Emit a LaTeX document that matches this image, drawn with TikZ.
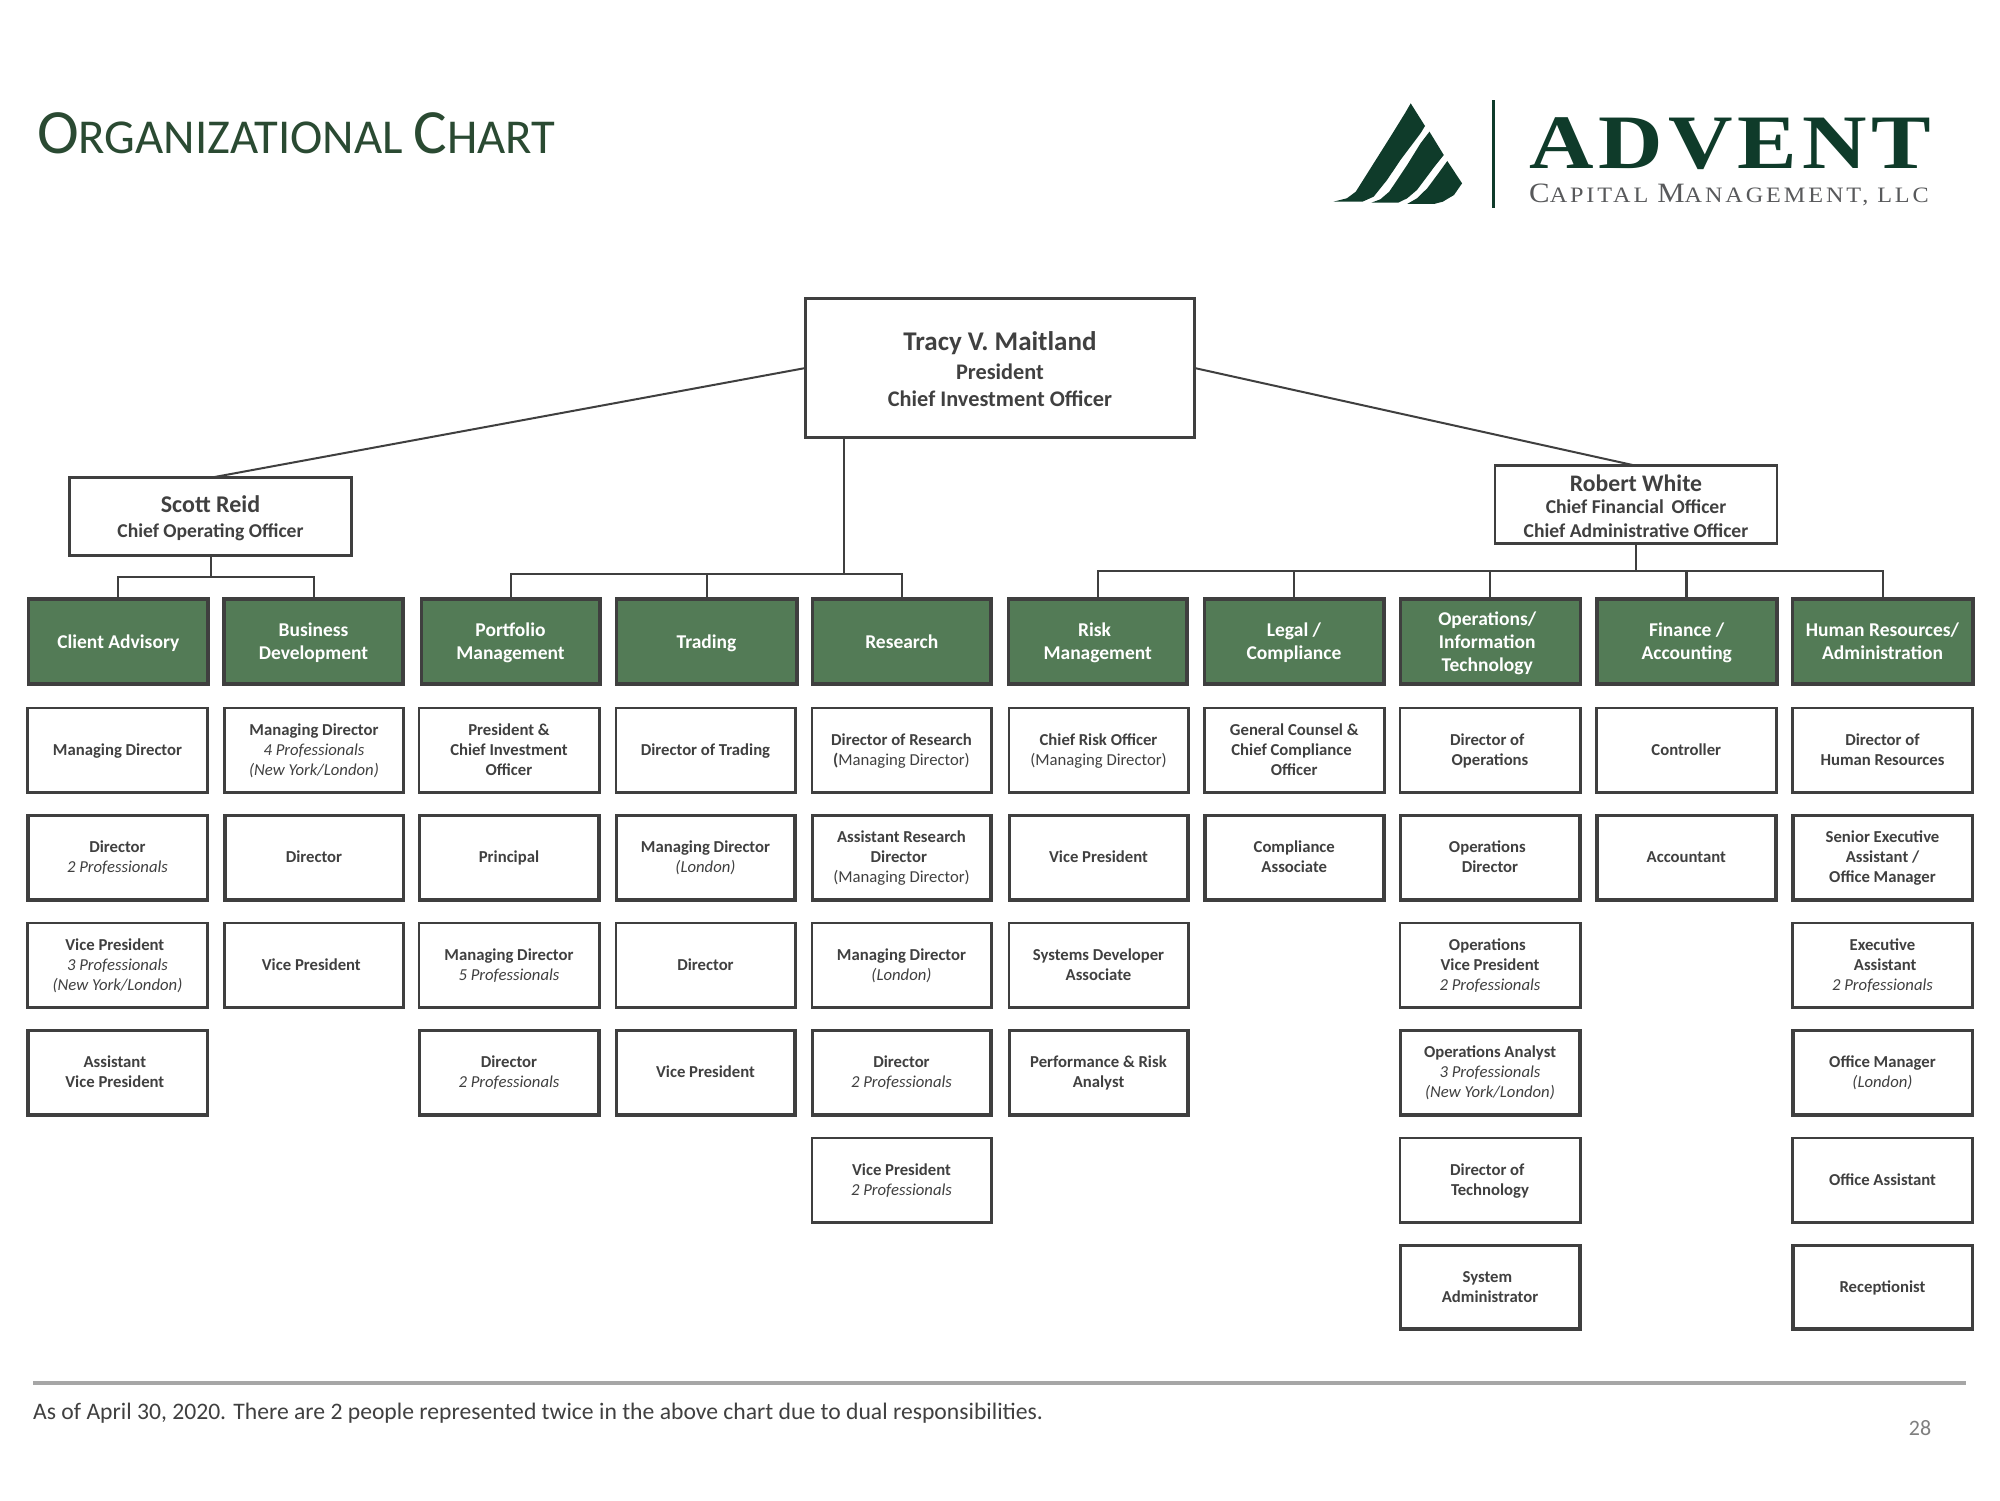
\documentclass[tikz,border=0pt]{standalone}
\usepackage{fontspec}
\setmainfont{Carlito}
\newfontfamily\logofont{Liberation Serif}
\definecolor{ink}{HTML}{404040}
\definecolor{boxline}{HTML}{3F3F3F}
\definecolor{deptgreen}{HTML}{537B56}
\definecolor{logogreen}{HTML}{0F3B2A}
\definecolor{titlegreen}{HTML}{2A4A32}
\definecolor{logogray}{HTML}{58595B}
\definecolor{rulegray}{HTML}{A6A6A6}
\definecolor{pagegray}{HTML}{7F7F7F}
% column edges of the department row and of the staff boxes, and the staff rows
\def\gl{{27,222.5,420,615,811,1007,1203,1399,1595.5,1791}}
\def\gr{{209.5,404.5,601,798,992.5,1188.5,1385,1581.7,1778,1974}}
\def\wl{{26.5,223.5,418,615,811,1008,1203.5,1399,1595.5,1791.5}}
\def\wr{{208.5,404.5,600,796,992,1189,1385,1581,1777,1973.5}}
\def\rt{{707,814,922,1029,1137,1244}}
\def\rb{{793,901,1008,1116,1223,1330}}
\def\rw{{2.6,3.5,2.6,3.5,2.6,3.5}}
\newcommand\prof[1]{{\normalfont\itshape #1}}
\newcommand\plain[1]{{\normalfont #1}}
\newcommand\tsp{\hspace*{0.32em}}
% centred stack of lines with even struts; the box keeps its size when the text is lowered
\newcommand\stack[2]{\raisebox{#1}[\height][\depth]{\begin{tabular}{@{}c@{}}#2\end{tabular}}}
% staff box: name, column, row, text
\newcommand\wb[4]{%
  \pgfmathsetmacro\xa{\wl[#2-1]}\pgfmathsetmacro\xb{\wr[#2-1]}%
  \pgfmathsetmacro\ya{\rt[#3-1]}\pgfmathsetmacro\yb{\rb[#3-1]}%
  \pgfmathsetmacro\lw{\rw[#3-1]}%
  \node[staffbox,line width=\lw pt,minimum width={\xb-\xa-\lw+1},minimum height={\yb-\ya-\lw+1}]
    (#1) at ({(\xa+\xb)/2},{(\ya+\yb)/2}) {\stack{-1.3pt}{#4}};}
% department box: name, column, text
\newcommand\db[3]{%
  \pgfmathsetmacro\xa{\gl[#2-1]}\pgfmathsetmacro\xb{\gr[#2-1]}%
  \node[deptbox,minimum width={\xb-\xa-2.6}] (#1) at ({(\xa+\xb)/2},641.5) {\stack{-2pt}{#3}};}
\tikzset{
  staffbox/.style={draw=boxline,fill=white,inner sep=0pt,outer sep=0pt,
    text=ink,font=\fontsize{16.7}{20}\selectfont\bfseries},
  deptbox/.style={draw=boxline,fill=deptgreen,line width=3.6pt,inner sep=0pt,outer sep=0pt,
    minimum height=85,text=white,font=\fontsize{19.5}{23}\selectfont\bfseries},
  leadbox/.style={draw=boxline,fill=white,line width=2.8pt,inner sep=0pt,outer sep=0pt,
    text=ink,font=\fontsize{19.6}{24.5}\selectfont\bfseries},
  link/.style={draw=boxline,line width=2pt},
  logoshape/.style={fill=logogreen,draw=none}
}
\begin{document}
\begin{tikzpicture}[x=1pt,y=-1pt]
\useasboundingbox (0,0) rectangle (2000,1500);
\fill[white] (0,0) rectangle (2000,1500);

% heading
\node[anchor=base west,inner sep=0pt,text=titlegreen] (title) at (37,153)
  {\fontsize{63}{64}\selectfont O\fontsize{48.7}{49}\selectfont RGANIZATIONAL \fontsize{63}{64}\selectfont C\fontsize{48.7}{49}\selectfont HART};

% company mark
\begin{scope}[shift={(1300,80)},x=0.4464pt,y=-0.3333pt]
  \fill[logoshape] (248,70) -- (280,138) -- (270,160) -- (225,240) -- (195,300) -- (165,350) -- (140,365) -- (75,365)
    -- (105,355) -- (125,335) -- (165,250) -- (205,165) -- (235,100) -- cycle;
  \fill[logoshape] (290,155) -- (322,225) -- (300,262) -- (262,330) -- (240,355) -- (220,368) -- (160,368)
    -- (180,358) -- (200,335) -- (240,255) -- (270,190) -- cycle;
  \fill[logoshape] (330,243) -- (363,310) -- (345,345) -- (320,365) -- (300,372) -- (240,372)
    -- (262,355) -- (285,325) -- (310,280) -- cycle;
\end{scope}
\fill[logogreen] (1491.5,100) rectangle (1494.5,208);
\node[anchor=base west,inner sep=0pt,text=logogreen] (brand) at (1529,168)
  {\logofont\bfseries\fontsize{77}{77}\selectfont\addfontfeature{FakeStretch=1.16,LetterSpace=6.5}ADVENT};
\node[anchor=base west,inner sep=0pt,text=logogray] (brandsub) at (1529,202)
  {\logofont\addfontfeature{FakeStretch=1.1,LetterSpace=13.2}\fontsize{28}{28}\selectfont C\fontsize{22}{22}\selectfont APITAL \fontsize{28}{28}\selectfont M\fontsize{22}{22}\selectfont ANAGEMENT, LLC};

% leadership
\node[leadbox,minimum width=389,minimum height=139,font=\fontsize{22.3}{27}\selectfont\bfseries] (tracy) at (1000,368)
  {\stack{-5pt}{{\fontsize{27}{30}\selectfont Tracy V. Maitland}\\[2pt] President\\ Chief Investment Officer}};
\node[leadbox,minimum width=282,minimum height=77.5] (scott) at (210.5,516.5)
  {\stack{-3.8pt}{{\fontsize{24}{27}\selectfont Scott Reid}\\ Chief Operating Officer}};
\node[leadbox,minimum width=282,minimum height=77.5] (robert) at (1636,504.5)
  {\stack{-5pt}{{\fontsize{23.7}{26}\selectfont Robert White}\\[-2.5pt] Chief Financial\, Officer\\ Chief Administrative Officer}};

% departments
\db{dClient}{1}{Client Advisory}
\db{dBiz}{2}{Business\\Development}
\db{dPort}{3}{Portfolio\\Management}
\db{dTrade}{4}{Trading}
\db{dResearch}{5}{Research}
\db{dRisk}{6}{Risk\tsp\\Management}
\db{dLegal}{7}{Legal /\\Compliance}
\db{dOps}{8}{Operations/\tsp\\Information\tsp\\Technology\tsp}
\db{dFin}{9}{Finance /\\Accounting}
\db{dHR}{10}{Human Resources/\\Administration}

% reporting lines
\coordinate (busScott) at (0,577);
\coordinate (busTracy) at (0,574);
\coordinate (busRobert) at (0,571);
\draw[link] (tracy.west) -- (scott.north);
\draw[link] (tracy.east) -- (robert.north);
\draw[link] (scott.south) -- (scott.south |- busScott);
\draw[link] (dClient.north) |- (dBiz.north |- busScott) -- (dBiz.north);
\draw[link] ([xshift=38pt]tracy.south west) -- ([xshift=38pt]tracy.south west |- busTracy);
\draw[link] (dPort.north) |- (dResearch.north |- busTracy) -- (dResearch.north);
\draw[link] (dTrade.north) -- (dTrade.north |- busTracy);
\draw[link] (robert.south) -- (robert.south |- busRobert);
\draw[link] (dRisk.north) |- (dHR.north |- busRobert) -- (dHR.north);
\draw[link] (dLegal.north) -- (dLegal.north |- busRobert);
\draw[link] (dOps.north) -- (dOps.north |- busRobert);
\draw[link,line width=2.6pt] (dFin.north) -- (dFin.north |- busRobert);

% staff, column by column
\wb{a1}{1}{1}{Managing Director}
\wb{a2}{1}{2}{Director\\\prof{2 Professionals}}
\wb{a3}{1}{3}{Vice President\tsp\\\prof{3 Professionals}\\\prof{(New York/London)}}
\wb{a4}{1}{4}{Assistant\tsp\\Vice President\tsp}

\wb{b1}{2}{1}{Managing Director\\\prof{4 Professionals}\\\prof{(New York/London)}}
\wb{b2}{2}{2}{Director}
\wb{b3}{2}{3}{Vice President\tsp}

\wb{c1}{3}{1}{President \&\\Chief Investment\\Officer}
\wb{c2}{3}{2}{Principal}
\wb{c3}{3}{3}{Managing Director\\\prof{5 Professionals}}
\wb{c4}{3}{4}{Director\\\prof{2 Professionals}}

\wb{d1}{4}{1}{Director of Trading}
\wb{d2}{4}{2}{Managing Director\\\prof{(London)}}
\wb{d3}{4}{3}{Director}
\wb{d4}{4}{4}{Vice President}

\wb{e1}{5}{1}{Director of Research\\\textbf{(}\plain{Managing Director)}}
\wb{e2}{5}{2}{Assistant Research\\Director\tsp\\\plain{(Managing Director)}}
\wb{e3}{5}{3}{Managing Director\\\prof{(London)}}
\wb{e4}{5}{4}{Director\\\prof{2 Professionals}}
\wb{e5}{5}{5}{Vice President\\\prof{2 Professionals}}

\wb{f1}{6}{1}{Chief Risk Officer\\\plain{(Managing Director)}}
\wb{f2}{6}{2}{Vice President}
\wb{f3}{6}{3}{Systems Developer\\Associate}
\wb{f4}{6}{4}{Performance \& Risk\\Analyst}

\wb{g1}{7}{1}{General Counsel \&\\Chief Compliance\tsp\\Officer}
\wb{g2}{7}{2}{Compliance\\Associate}

\wb{h1}{8}{1}{Director of\tsp\\Operations}
\wb{h2}{8}{2}{Operations\tsp\\Director}
\wb{h3}{8}{3}{Operations\tsp\\Vice President\\\prof{2 Professionals}}
\wb{h4}{8}{4}{Operations Analyst\\\prof{3 Professionals}\\\prof{(New York/London)}}
\wb{h5}{8}{5}{Director of\tsp\\Technology}
\wb{h6}{8}{6}{System\tsp\\Administrator}

\wb{i1}{9}{1}{Controller}
\wb{i2}{9}{2}{Accountant}

\wb{j1}{10}{1}{Director of\\Human Resources}
\wb{j2}{10}{2}{Senior Executive\\Assistant /\\Office Manager}
\wb{j3}{10}{3}{Executive\\\hspace*{0.32em}Assistant\\\prof{2 Professionals}}
\wb{j4}{10}{4}{Office Manager\\\prof{(London)}}
\wb{j5}{10}{5}{Office Assistant}
\wb{j6}{10}{6}{Receptionist}

% footer
\draw[rulegray,line width=3.5pt] (33,1383) -- (1966,1383);
\node[anchor=base west,inner sep=0pt,text=ink,font=\fontsize{23.65}{26}\selectfont] (note) at (33,1419)
  {As of April 30, 2020. There are 2 people represented twice in the above chart due to dual responsibilities.};
\node[inner sep=0pt,text=pagegray,font=\fontsize{22}{26}\selectfont] (page) at (1920,1428) {28};
\end{tikzpicture}
\end{document}
